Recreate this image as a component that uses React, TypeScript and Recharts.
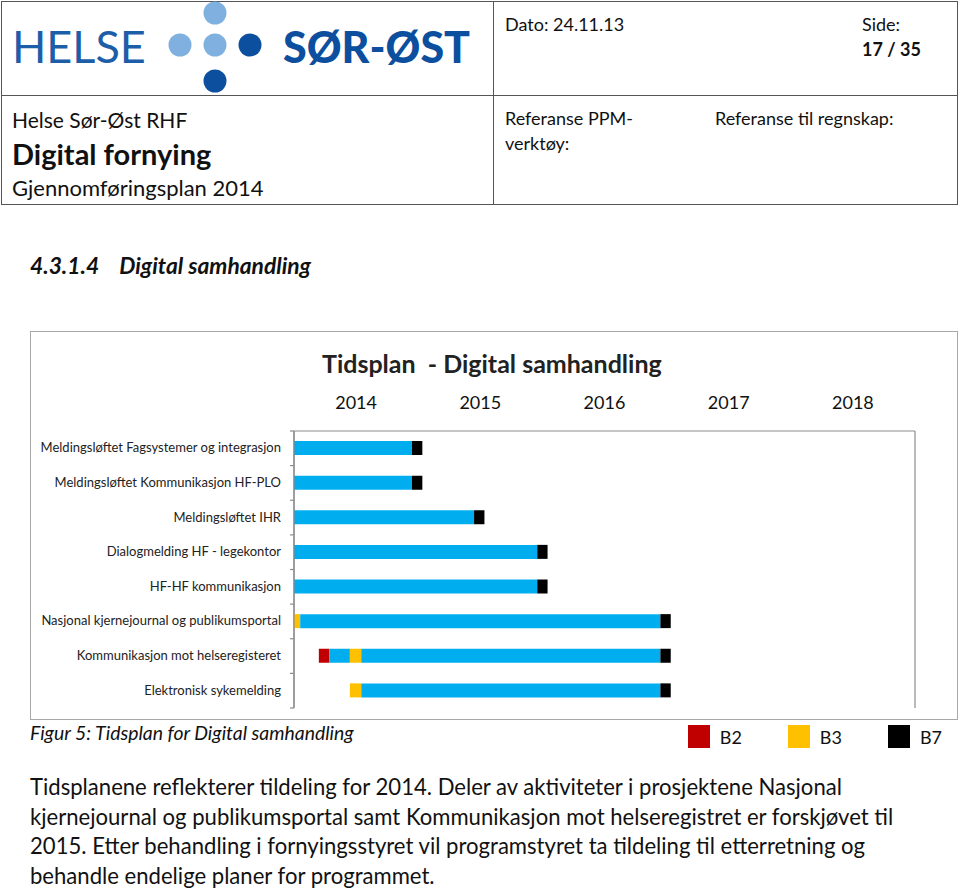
import React from "react";
import {
  Bar,
  BarChart,
  CartesianGrid,
  Legend,
  XAxis,
  YAxis,
} from "recharts";

// activities, top to bottom
const activities = [
  "Meldingsløftet Fagsystemer og integrasjon",
  "Meldingsløftet Kommunikasjon HF-PLO",
  "Meldingsløftet IHR",
  "Dialogmelding HF - legekontor",
  "HF-HF kommunikasjon",
  "Nasjonal kjernejournal og publikumsportal",
  "Kommunikasjon mot helseregisteret",
  "Elektronisk sykemelding",
];

// segment lengths in months, counted from january 2014
const padMonths = [0, 0, 0, 0, 0, 0, 2.4, 5.4];
const b2Months = [0, 0, 0, 0, 0, 0, 1, 0];
const preMonths = [0, 0, 0, 0, 0, 0, 2, 0];
const b3Months = [0, 0, 0, 0, 0, 0.6, 1.1, 1.1];
const mainMonths = [11.4, 11.4, 17.4, 23.5, 23.5, 34.8, 28.9, 28.9];
const b7Months = [1, 1, 1, 1, 1, 1, 1, 1];

const years = ["2014", "2015", "2016", "2017", "2018"];
const legendNames = ["B2", "B3", "B7"];

const yearStarts = years.map((_, i) => i * 12).concat(years.length * 12);
const yearMids = years.map((_, i) => i * 12 + 6);

const chartData = activities.map((name, i) => ({
  name,
  pad: padMonths[i],
  b2: b2Months[i],
  pre: preMonths[i],
  b3: b3Months[i],
  main: mainMonths[i],
  b7: b7Months[i],
}));

const FONT = "Lato, 'Open Sans', sans-serif";
const CYAN = "#00AEEF";
const GRID = "#8c8c8c";

function LegendBox(props: any) {
  const items = (props.payload || []).filter(
    (p: any) => p.type !== "none" && legendNames.includes(p.value)
  );
  return (
    <div
      style={{
        display: "flex",
        justifyContent: "flex-end",
        alignItems: "flex-end",
        height: 40,
        paddingRight: 16,
        boxSizing: "border-box",
        fontFamily: FONT,
      }}
    >
      {items.map((p: any) => (
        <div key={p.value} style={{ display: "flex", alignItems: "center", marginLeft: 46 }}>
          <span
            style={{ width: 22, height: 23, background: p.color, display: "inline-block", marginRight: 10 }}
          />
          <span style={{ fontSize: 18, color: "#111" }}>{p.value}</span>
        </div>
      ))}
    </div>
  );
}

// label plus small tick marks on the category boundaries
function ActivityTick(props: any) {
  const { x, y, payload, index } = props;
  const half = typeof payload?.offset === "number" ? payload.offset : 0;
  const ax = x + 13;
  return (
    <g>
      <text x={x} y={y} dy={4} textAnchor="end" fontFamily={FONT} fontSize={13} fill="#222">
        {payload.value}
      </text>
      {half > 0 && <line x1={ax - 4} x2={ax} y1={y + half} y2={y + half} stroke={GRID} strokeWidth={1.2} />}
      {half > 0 && index === 0 && (
        <line x1={ax - 4} x2={ax} y1={y - half} y2={y - half} stroke={GRID} strokeWidth={1.2} />
      )}
    </g>
  );
}

function Logo() {
  return (
    <svg width={490} height={95} style={{ position: "absolute", left: 0, top: 0 }}>
      <text x={12} y={63} fontFamily={FONT} fontSize={45} fill="#1d5ea8">
        HELSE
      </text>
      <circle cx={215} cy={13} r={11.5} fill="#7fb0df" />
      <circle cx={180} cy={45} r={11.5} fill="#7fb0df" />
      <circle cx={215} cy={45} r={11.5} fill="#7fb0df" />
      <circle cx={250} cy={45} r={11.5} fill="#0c4f9e" />
      <circle cx={215} cy={81} r={11.5} fill="#0c4f9e" />
      <text x={283} y={63} fontFamily={FONT} fontWeight={900} fontSize={43} fill="#0c4f9e">
        SØR-ØST
      </text>
    </svg>
  );
}

const abs = (left: number, top: number, extra: React.CSSProperties = {}): React.CSSProperties => ({
  position: "absolute",
  left,
  top,
  whiteSpace: "nowrap",
  ...extra,
});

export default function App() {
  return (
    <div
      style={{
        position: "absolute",
        left: 0,
        top: 0,
        width: 960,
        height: 888,
        background: "#fff",
        fontFamily: FONT,
        color: "#111",
        overflow: "hidden",
      }}
    >
      {/* header table */}
      <div style={{ position: "absolute", left: 1, top: 1, width: 955, height: 202, border: "1.5px solid #555" }} />
      <div style={{ position: "absolute", left: 1, top: 95, width: 957, height: 0, borderTop: "1.5px solid #555" }} />
      <div style={{ position: "absolute", left: 493, top: 1, width: 0, height: 203, borderLeft: "1.5px solid #555" }} />
      <Logo />
      <div style={abs(12, 107, { fontSize: 21, lineHeight: "25px" })}>Helse Sør-Øst RHF</div>
      <div style={abs(12, 137, { fontSize: 29, lineHeight: "34px", fontWeight: 700 })}>Digital fornying</div>
      <div style={abs(12, 175, { fontSize: 22, lineHeight: "26px" })}>Gjennomføringsplan 2014</div>
      <div style={abs(505, 13, { fontSize: 18, lineHeight: "22px" })}>Dato: 24.11.13</div>
      <div style={abs(862, 13, { fontSize: 18, lineHeight: "22px" })}>Side:</div>
      <div style={abs(862, 38, { fontSize: 18, lineHeight: "22px", fontWeight: 700 })}>17 / 35</div>
      <div style={abs(505, 106, { fontSize: 18, lineHeight: "25px" })}>
        Referanse PPM-
        <br />
        verktøy:
      </div>
      <div style={abs(715, 106, { fontSize: 18, lineHeight: "25px" })}>Referanse til regnskap:</div>

      {/* section heading */}
      <div style={abs(30, 252, { fontSize: 22.8, lineHeight: "27px", fontWeight: 700, fontStyle: "italic" })}>
        4.3.1.4<span style={{ display: "inline-block", width: 20 }} />Digital samhandling
      </div>

      {/* chart frame */}
      <div
        style={{ position: "absolute", left: 30, top: 331, width: 926, height: 387, border: "1.5px solid #a8a8a8" }}
      />
      <div style={abs(322, 348, { fontSize: 25, lineHeight: "30px", fontWeight: 700, color: "#222" })}>
        Tidsplan&nbsp;&nbsp;- Digital samhandling
      </div>

      <div style={{ position: "absolute", left: 30, top: 380 }}>
        <BarChart
          width={928}
          height={372}
          data={chartData}
          layout="vertical"
          barSize={14}
          margin={{ top: 15, right: 43, left: 0, bottom: 4 }}
          style={{ fontFamily: FONT }}
        >
          <CartesianGrid xAxisId="grid" horizontal={false} stroke={GRID} strokeWidth={1.2} />
          <XAxis
            xAxisId="grid"
            type="number"
            orientation="top"
            domain={[0, 60]}
            ticks={yearStarts}
            allowDataOverflow
            height={6}
            tickSize={4}
            tick={false}
            stroke={GRID}
            strokeWidth={1.2}
          />
          <XAxis
            xAxisId="years"
            type="number"
            orientation="top"
            domain={[0, 60]}
            ticks={yearMids}
            allowDataOverflow
            height={30}
            axisLine={false}
            tickLine={false}
            tickMargin={10}
            tickFormatter={(v: number) => years[Math.floor(v / 12)]}
            tick={{ fontSize: 18, fill: "#111", fontFamily: FONT }}
          />
          <YAxis
            type="category"
            dataKey="name"
            width={264}
            tickLine={false}
            tickMargin={7}
            stroke={GRID}
            strokeWidth={1.2}
            interval={0}
            tick={<ActivityTick />}
          />
          <Legend verticalAlign="bottom" wrapperStyle={{ left: 0, width: 928 }} content={LegendBox} />
          <Bar xAxisId="grid" dataKey="pad" stackId="a" fill="transparent" legendType="none" isAnimationActive={false} />
          <Bar xAxisId="grid" dataKey="b2" name="B2" stackId="a" fill="#C00000" isAnimationActive={false} />
          <Bar xAxisId="grid" dataKey="pre" stackId="a" fill={CYAN} legendType="none" isAnimationActive={false} />
          <Bar xAxisId="grid" dataKey="b3" name="B3" stackId="a" fill="#FFC000" isAnimationActive={false} />
          <Bar xAxisId="grid" dataKey="main" stackId="a" fill={CYAN} legendType="none" isAnimationActive={false} />
          <Bar xAxisId="grid" dataKey="b7" name="B7" stackId="a" fill="#000000" isAnimationActive={false} />
        </BarChart>
      </div>

      <div style={abs(30, 721, { fontSize: 19.4, lineHeight: "24px", fontStyle: "italic" })}>
        Figur 5: Tidsplan for Digital samhandling
      </div>

      {/* body text */}
      <div style={abs(30, 772, { fontSize: 22.1, lineHeight: "29.7px" })}>
        Tidsplanene reflekterer tildeling for 2014. Deler av aktiviteter i prosjektene Nasjonal
        <br />
        kjernejournal og publikumsportal samt Kommunikasjon mot helseregistret er forskjøvet til
        <br />
        2015. Etter behandling i fornyingsstyret vil programstyret ta tildeling til etterretning og
        <br />
        behandle endelige planer for programmet.
      </div>
    </div>
  );
}
